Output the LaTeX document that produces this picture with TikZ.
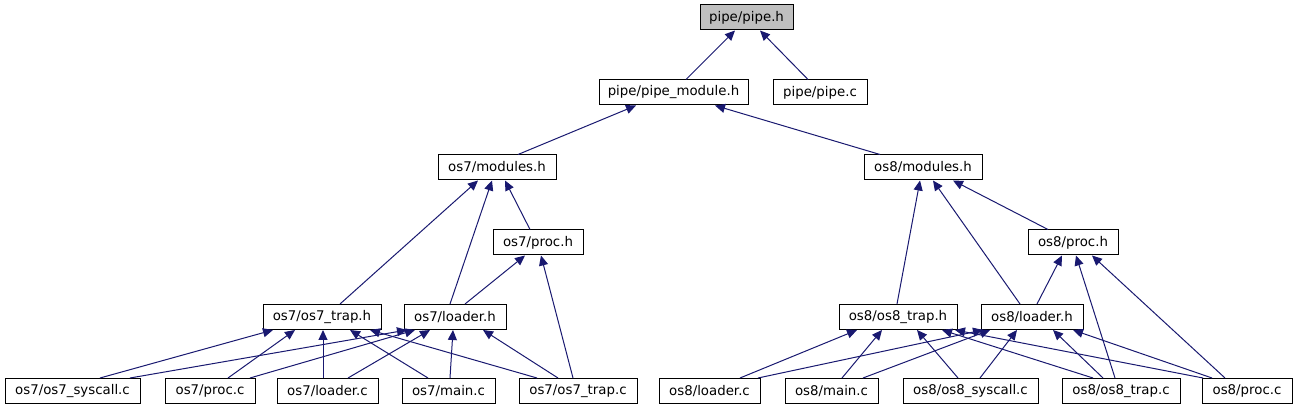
\documentclass[tikz,border=0pt]{standalone}
\usepackage{fontspec}
\setmainfont{DejaVu Sans}
\usetikzlibrary{arrows.meta}
\definecolor{edgeblue}{HTML}{191970}
\tikzset{
  file/.style={draw=black, fill=white, line width=1pt, minimum height=25pt,
    inner sep=0pt, font=\fontsize{13.33}{16}\selectfont},
  root/.style={file, fill=gray!50},
  dep/.style={draw=edgeblue, line width=1pt, -{Triangle[length=10pt,width=9pt]}}
}
\begin{document}
\begin{tikzpicture}[x=1pt,y=-1pt]
    \useasboundingbox (0,0) rectangle (1295,411);
    % Top of the graph
    \node[root, minimum width=93] (pipeh) at (746.5,17.5) {pipe/pipe.h};
    \node[file, minimum width=149] (pipemod) at (673.5,92.5) {pipe/pipe\_module.h};
    \node[file, minimum width=94] (pipec) at (820,92.5) {pipe/pipe.c};

    % Module headers
    \node[file, minimum width=118] (mods7) at (497,167.5) {os7/modules.h};
    \node[file, minimum width=118] (mods8) at (923,167.5) {os8/modules.h};
    \node[file, minimum width=90] (proch7) at (538,242.5) {os7/proc.h};
    \node[file, minimum width=90] (proch8) at (1073,242.5) {os8/proc.h};

    % Trap and loader headers
    \node[file, minimum width=118] (traph7) at (322,317) {os7/os7\_trap.h};
    \node[file, minimum width=102] (loadh7) at (455,317) {os7/loader.h};
    \node[file, minimum width=118] (traph8) at (898,317) {os8/os8\_trap.h};
    \node[file, minimum width=102] (loadh8) at (1032,317) {os8/loader.h};

    % Source files
    \node[file, minimum width=135] (sysc7) at (72.5,391) {os7/os7\_syscall.c};
    \node[file, minimum width=90] (procc7) at (210,391) {os7/proc.c};
    \node[file, minimum width=101] (loadc7) at (327.5,391) {os7/loader.c};
    \node[file, minimum width=93] (mainc7) at (448.5,391) {os7/main.c};
    \node[file, minimum width=118] (trapc7) at (578,391) {os7/os7\_trap.c};
    \node[file, minimum width=101] (loadc8) at (709.5,391) {os8/loader.c};
    \node[file, minimum width=93] (mainc8) at (831.5,391) {os8/main.c};
    \node[file, minimum width=135] (sysc8) at (970.5,391) {os8/os8\_syscall.c};
    \node[file, minimum width=118] (trapc8) at (1121,391) {os8/os8\_trap.c};
    \node[file, minimum width=90] (procc8) at (1247,391) {os8/proc.c};

    % Upper edges
    \draw[dep] ([xshift=12.5]pipemod.north) -- ([xshift=-11.5]pipeh.south);
    \draw[dep] ([xshift=-12]pipec.north) -- ([xshift=13.5]pipeh.south);
    \draw[dep] ([xshift=21]mods7.north) -- ([xshift=-37.5]pipemod.south);
    \draw[dep] ([xshift=-43]mods8.north) -- ([xshift=41.5]pipemod.south);

    % os7 headers
    \draw[dep] ([xshift=18]traph7.north) -- ([xshift=-19]mods7.south);
    \draw[dep] ([xshift=-5]loadh7.north) -- ([xshift=-5]mods7.south);
    \draw[dep] ([xshift=-8]proch7.north) -- ([xshift=8]mods7.south);
    \draw[dep] ([xshift=10]loadh7.north) -- ([xshift=-13]proch7.south);
    \draw[dep] ([xshift=-5]trapc7.north) -- ([xshift=3]proch7.south);

    % os8 headers
    \draw[dep] ([xshift=-1]traph8.north) -- ([xshift=-3]mods8.south);
    \draw[dep] ([xshift=-12]loadh8.north) -- ([xshift=10]mods8.south);
    \draw[dep] ([xshift=-25]proch8.north) -- ([xshift=30]mods8.south);
    \draw[dep] ([xshift=5]loadh8.north) -- ([xshift=-11]proch8.south);
    \draw[dep] ([xshift=-6]trapc8.north) -- ([xshift=3]proch8.south);
    \draw[dep] ([xshift=-22]procc8.north) -- ([xshift=19]proch8.south);

    % os7 sources
    \draw[dep] ([xshift=27.5]sysc7.north) -- ([xshift=-49]traph7.south);
    \draw[dep] ([xshift=57.5]sysc7.north) -- ([xshift=-48]loadh7.south);
    \draw[dep] ([xshift=18]procc7.north) -- ([xshift=-27]traph7.south);
    \draw[dep] ([xshift=40]procc7.north) -- ([xshift=-40]loadh7.south);
    \draw[dep] ([xshift=-4.5]loadc7.north) -- ([xshift=1]traph7.south);
    \draw[dep] ([xshift=20.5]loadc7.north) -- ([xshift=-25]loadh7.south);
    \draw[dep] ([xshift=-20.5]mainc7.north) -- ([xshift=28]traph7.south);
    \draw[dep] ([xshift=1.5]mainc7.north) -- ([xshift=-2]loadh7.south);
    \draw[dep] ([xshift=-41]trapc7.north) -- ([xshift=48]traph7.south);
    \draw[dep] ([xshift=-20]trapc7.north) -- ([xshift=28]loadh7.south);

    % os8 sources
    \draw[dep] ([xshift=30.5]loadc8.north) -- ([xshift=-41]traph8.south);
    \draw[dep] ([xshift=48.5]loadc8.north) -- ([xshift=-49]loadh8.south);
    \draw[dep] ([xshift=10.5]mainc8.north) -- ([xshift=-16]traph8.south);
    \draw[dep] ([xshift=31.5]mainc8.north) -- ([xshift=-42]loadh8.south);
    \draw[dep] ([xshift=-12.5]sysc8.north) -- ([xshift=19]traph8.south);
    \draw[dep] ([xshift=9.5]sysc8.north) -- ([xshift=-15]loadh8.south);
    \draw[dep] ([xshift=-28]trapc8.north) -- ([xshift=44]traph8.south);
    \draw[dep] ([xshift=-18]trapc8.north) -- ([xshift=21]loadh8.south);
    \draw[dep] ([xshift=-44]procc8.north) -- ([xshift=57]traph8.south);
    \draw[dep] ([xshift=-35]procc8.north) -- ([xshift=41]loadh8.south);
\end{tikzpicture}
\end{document}
